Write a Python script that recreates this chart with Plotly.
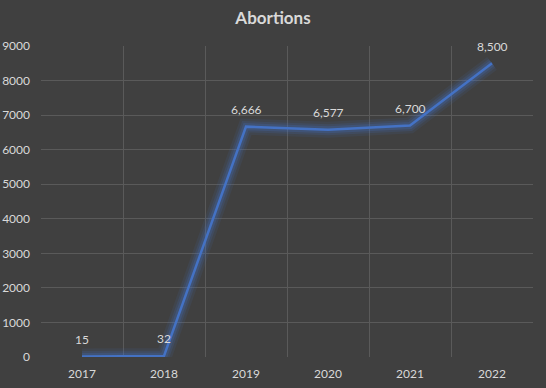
import plotly.graph_objects as go

years = ["2017", "2018", "2019", "2020", "2021", "2022"]
abortions = [15, 32, 6666, 6577, 6700, 8500]
y_ticks = [0, 1000, 2000, 3000, 4000, 5000, 6000, 7000, 8000, 9000]

line_color = "#4472C4"
text_color = "#D9D9D9"
bg = "#404040"
font_family = "Lato, 'Open Sans', sans-serif"

fig = go.Figure()
# glow layers
for w, op in [(16, 0.10), (11, 0.15), (7, 0.22)]:
    fig.add_trace(go.Scatter(
        x=years, y=abortions, mode="lines",
        line=dict(color=line_color, width=w),
        opacity=op, hoverinfo="skip", showlegend=False,
    ))
fig.add_trace(go.Scatter(
    x=years, y=abortions, mode="lines",
    line=dict(color=line_color, width=2.5),
    showlegend=False,
))
for i, v in enumerate(abortions):
    fig.add_annotation(x=i, y=v, xref="x", yref="y", text=f"{v:,}", showarrow=False,
                       yshift=17, font=dict(color=text_color, size=12, family=font_family))

fig.update_layout(
    width=546, height=388,
    paper_bgcolor=bg, plot_bgcolor=bg,
    margin=dict(l=41, r=13, t=46, b=31),
    title=dict(text="<b>Abortions</b>", x=0.5, xanchor="center", y=0.953, yanchor="middle",
               font=dict(size=17, color=text_color, family=font_family)),
    font=dict(family=font_family, color=text_color, size=12),
)
fig.update_xaxes(
    type="category", range=[-0.5, 5.5], tickson="boundaries",
    showgrid=True, gridcolor="#5A5A5A", gridwidth=1, automargin=False,
    ticks="", showline=False, zeroline=False, ticklabelstandoff=8,
    tickfont=dict(size=12, color=text_color),
)
fig.update_yaxes(
    range=[0, 9000], tickvals=y_ticks, ticktext=[str(v) for v in y_ticks],
    showgrid=True, gridcolor="#5A5A5A", gridwidth=1, automargin=False,
    zeroline=False, showline=False, ticklabelstandoff=10,
    tickfont=dict(size=12, color=text_color),
)

fig.write_html("out.html", config={"displayModeBar": False},
               post_script="document.body.style.margin='0';")
